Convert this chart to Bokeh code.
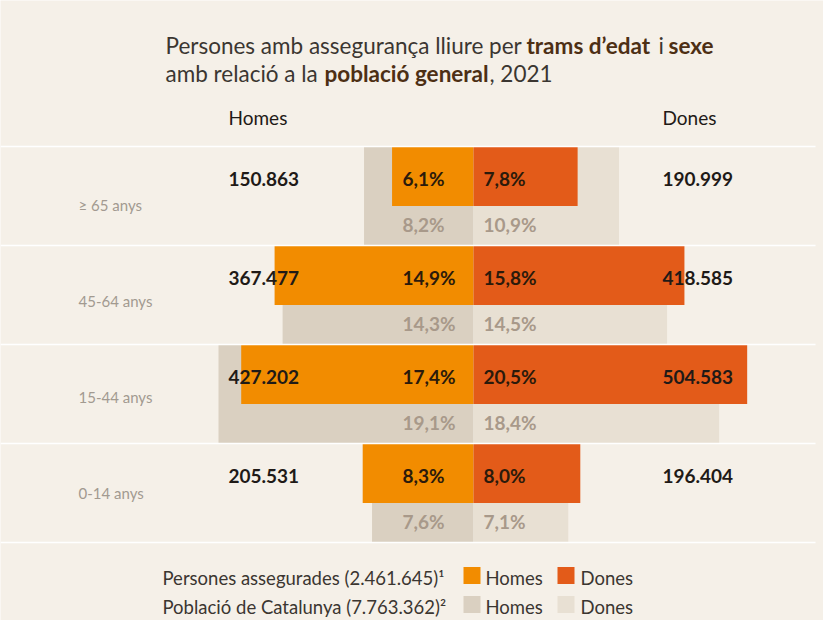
from bokeh.plotting import figure
from bokeh.models import Range1d, ColumnDataSource
from bokeh.core.properties import value
from bokeh.embed import file_html
from bokeh.resources import INLINE

# ---------------- data ----------------
ages = ["≥ 65 anys", "45-64 anys", "15-44 anys", "0-14 anys"]
homes_asseg = [150863, 367477, 427202, 205531]
dones_asseg = [190999, 418585, 504583, 196404]
homes_pct = [6.1, 14.9, 17.4, 8.3]
dones_pct = [7.8, 15.8, 20.5, 8.0]
homes_pob_pct = [8.2, 14.3, 19.1, 7.6]
dones_pob_pct = [10.9, 14.5, 18.4, 7.1]
total_asseg = 2461645
total_pob = 7763362

# ---------------- style ----------------
BG = "#f5f0e8"
ORANGE = "#f28c00"
RED = "#e35b19"
BEIGE_H = "#dad0c1"
BEIGE_D = "#e8e0d3"
DARK = "#1f1a17"
PCT_DARK = "#2b1a0b"
PCT_LIGHT = "#a8998a"
AGE_COL = "#a29a90"
TITLE_COL = "#3b3631"
TITLE_BOLD = "#4d2f14"
FONT = value("Lato")

W, H = 823, 620
SCALE = 13.35         # px per percentage point
CX = 473              # px of the centre line


def px(x_px):
    return (x_px - CX) / SCALE


def fmt_n(v):
    return f"{v:,}".replace(",", ".")


def fmt_p(v):
    return f"{v:.1f}".replace(".", ",") + "%"


ROW_TOP0 = 146
ROW_H = 99
AGE_Y0, AGE_STEP = 204, 96
n = len(ages)
tops = [ROW_TOP0 + ROW_H * i for i in range(n)]

p = figure(width=W, height=H,
           x_range=Range1d(-CX / SCALE, (W - CX) / SCALE),
           y_range=Range1d(H, 0),
           x_axis_type=None, y_axis_type=None,
           output_backend="svg", toolbar_location=None,
           min_border=0, background_fill_color=BG, border_fill_color=BG,
           outline_line_color=None)
p.grid.visible = False

src = ColumnDataSource(dict(
    age=ages,
    y_pob=[t + 49.5 for t in tops],
    y_ins=[t + 30 for t in tops],
    y_txt=[t + 32 for t in tops],
    y_txt2=[t + 78 for t in tops],
    y_age=[AGE_Y0 + AGE_STEP * i for i in range(n)],
    h_left=[-v for v in homes_pct],
    d_right=dones_pct,
    hp_left=[-v for v in homes_pob_pct],
    dp_right=dones_pob_pct,
    h_num=[fmt_n(v) for v in homes_asseg],
    d_num=[fmt_n(v) for v in dones_asseg],
    h_pct=[fmt_p(v) for v in homes_pct],
    d_pct=[fmt_p(v) for v in dones_pct],
    hp_pct=[fmt_p(v) for v in homes_pob_pct],
    dp_pct=[fmt_p(v) for v in dones_pob_pct],
))

# population bars (background)
p.hbar(y="y_pob", height=98, left="hp_left", right=0, source=src,
       fill_color=BEIGE_H, line_color=None)
p.hbar(y="y_pob", height=98, left=0, right="dp_right", source=src,
       fill_color=BEIGE_D, line_color=None)
# insured bars
p.hbar(y="y_ins", height=59, left="h_left", right=0, source=src,
       fill_color=ORANGE, line_color=None)
p.hbar(y="y_ins", height=59, left=0, right="d_right", source=src,
       fill_color=RED, line_color=None)

# white separators
sep_y = [ROW_TOP0 + ROW_H * k for k in range(n + 1)]
p.segment(x0=[px(0)] * len(sep_y), x1=[px(815)] * len(sep_y),
          y0=sep_y, y1=sep_y, line_color="white", line_width=1.6)

# labels
common = dict(source=src, text_font=FONT, text_baseline="middle")
p.text(x=px(228), y="y_txt", text="h_num", text_font_style="bold",
       text_font_size="19px", text_color=DARK, **common)
p.text(x=px(662), y="y_txt", text="d_num", text_font_style="bold",
       text_font_size="19px", text_color=DARK, **common)
p.text(x=px(402), y="y_txt", text="h_pct", text_font_style="bold",
       text_font_size="19px", text_color=PCT_DARK, **common)
p.text(x=px(483), y="y_txt", text="d_pct", text_font_style="bold",
       text_font_size="19px", text_color=PCT_DARK, **common)
p.text(x=px(402), y="y_txt2", text="hp_pct", text_font_style="bold",
       text_font_size="19px", text_color=PCT_LIGHT, **common)
p.text(x=px(483), y="y_txt2", text="dp_pct", text_font_style="bold",
       text_font_size="19px", text_color=PCT_LIGHT, **common)
p.text(x=px(78), y="y_age", text="age", text_font_size="15px",
       text_color=AGE_COL, **common)

# column headers
p.text(x=[px(228), px(662)], y=[117, 117], text=["Homes", "Dones"],
       text_font=FONT, text_font_size="19px", text_color=DARK,
       text_baseline="middle")

# title
t1 = [("Persones amb assegurança lliure per", 165, "normal", TITLE_COL),
      ("trams d’edat", 526, "bold", TITLE_BOLD),
      ("i", 658, "normal", TITLE_COL),
      ("sexe", 668, "bold", TITLE_BOLD)]
t2 = [("amb relació a la", 165, "normal", TITLE_COL),
      ("població general", 324, "bold", TITLE_BOLD),
      (", 2021", 489, "normal", TITLE_COL)]
for segs, yy in ((t1, 45), (t2, 73)):
    for txt, xx, st, col in segs:
        p.text(x=[px(xx)], y=[yy], text=[txt], text_font=FONT,
               text_font_size="22.5px", text_font_style=st, text_color=col,
               text_baseline="middle")

# legend
leg_rows = [("Persones assegurades (" + fmt_n(total_asseg) + ")¹", ORANGE, RED, 577),
            ("Població de Catalunya (" + fmt_n(total_pob) + ")²", BEIGE_H, BEIGE_D, 606)]
for label, c1, c2, yy in leg_rows:
    p.text(x=[px(162)], y=[yy], text=[label], text_font=FONT,
           text_font_size="18.5px", text_color=TITLE_COL, text_baseline="middle")
    p.scatter(x=[px(471.5), px(565.5)], y=[yy - 2] * 2, marker="square",
              size=17, fill_color=[c1, c2], line_color=None)
    p.text(x=[px(485), px(580)], y=[yy, yy], text=["Homes", "Dones"],
           text_font=FONT, text_font_size="18.5px", text_color=TITLE_COL,
           text_baseline="middle")

open("out.html", "w").write(file_html(p, INLINE))
